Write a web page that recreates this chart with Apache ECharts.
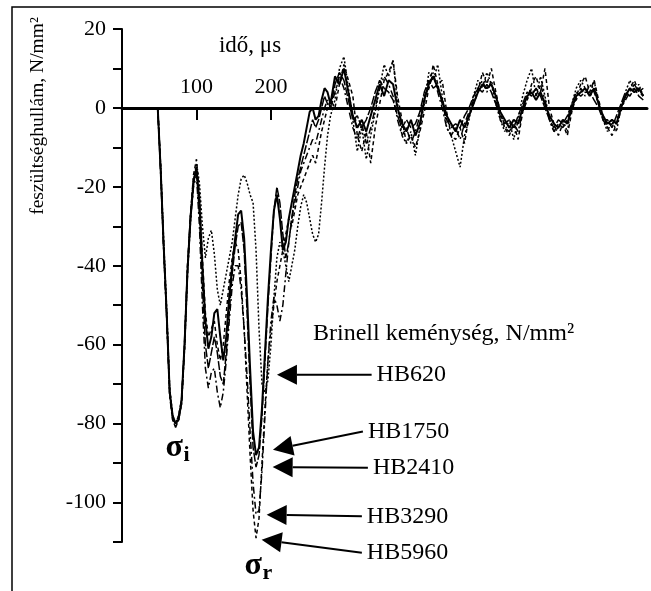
<!DOCTYPE html>
<html><head><meta charset="utf-8">
<script src="https://cdn.jsdelivr.net/npm/echarts@6/dist/echarts.min.js"></script>
<style>html,body{margin:0;padding:0;background:#fff}#c{width:651px;height:591px}</style>
</head><body><div id="c"></div>
<script>
// time axis, microseconds
const time = [0,48,52,56,60,64,68,72,76,80,84,88,92,96,
100,104,108,112,116,120,124,128,132,136,140,144,148,152,156,160,164,168,172,176,180,184,188,192,196,200,204,208,212,216,220,224,228,232,236,240,244,248,252,256,260,264,268,272,276,280,
286,292,298,304,310,316,322,328,334,340,346,352,358,364,370,376,382,388,394,400,406,412,418,424,430,436,442,448,454,460,466,472,478,484,490,496,502,508,514,520,526,532,538,544,550,556,562,568,574,580,586,592,598,604,610,616,622,628,634,640,646,652,658,664,670,676,682,688,694,700];

const hb620 = [0,0,-15,-34,-51,-71,-78,-80,-79,-75,-61,-42,-29,-19,
-14,-19,-30,-38,-33,-31,-37,-46,-50,-46,-42,-38,-34,-28,-22,-18,-17,-19,-22,-24,-36,-56,-70,-72,-69,-60,-48,-38,-34,-36,-40,-44,-40,-36,-30,-25,-22,-24,-28,-32,-34,-32,-24,-15,-7,-2,
2,10,13,5,-3,-11,-5,-13,-7,-1,5,11,8,12,1,-7,-9,-6,-12,-5,1,9,7,11,3,-5,-7,-11,-15,-7,-3,3,7,5,9,6,1,-3,-6,-3,-8,-3,3,7,10,3,8,3,-3,-6,-5,-3,-6,1,5,7,5,3,7,1,-3,-6,-3,-6,0,4,7,4,6,3];

const hb1750 = [0,0,-16,-35,-52,-72,-78,-80,-79,-74,-60,-41,-28,-19,
-15,-24,-40,-54,-61,-58,-52,-51,-58,-64,-58,-48,-40,-33,-27,-26,-33,-48,-66,-82,-88,-86,-76,-62,-48,-36,-26,-22,-28,-36,-34,-28,-24,-20,-16,-12,-9,-5,-1,0,-3,-2,2,5,4,1,
8,6,10,4,-2,-5,-3,-6,-2,2,6,3,7,6,0,-4,-6,-3,-7,-4,2,6,8,5,2,-2,-4,-6,-3,-5,-2,1,4,6,5,6,3,-1,-3,-5,-3,-4,0,3,4,2,4,1,-2,-4,-5,-3,-4,0,3,4,5,3,5,1,-2,-4,-3,-4,0,3,5,4,5,3];

const hb2410 = [0,0,-16,-36,-53,-72,-79,-81,-79,-75,-60,-40,-27,-18,
-16,-27,-45,-60,-66,-62,-58,-62,-68,-70,-62,-52,-42,-35,-30,-29,-36,-52,-70,-86,-91,-88,-78,-64,-50,-38,-26,-20,-24,-32,-38,-34,-28,-22,-18,-15,-12,-9,-6,-3,-5,-3,0,3,1,0,
6,9,7,2,-3,-2,-5,-3,0,4,7,5,4,2,-2,-5,-3,-5,-4,-1,4,7,5,6,1,-3,-5,-4,-5,-2,0,3,5,4,6,4,1,-2,-4,-3,-5,-2,1,4,3,5,3,0,-3,-5,-3,-4,-2,1,4,3,4,4,2,0,-3,-3,-5,-2,1,4,3,5,3,2];

const hb3290 = [0,0,-17,-36,-53,-73,-79,-80,-78,-74,-59,-40,-28,-20,
-17,-30,-50,-66,-71,-67,-66,-72,-76,-72,-64,-54,-45,-40,-40,-46,-56,-68,-82,-95,-103,-102,-92,-78,-64,-54,-48,-50,-54,-50,-42,-34,-28,-24,-20,-16,-14,-12,-10,-8,-9,-6,-3,0,2,0,
4,8,5,0,-5,-8,-4,-9,-5,0,5,8,6,3,-3,-7,-5,-9,-6,-2,3,5,9,4,0,-5,-7,-5,-8,-4,-1,2,5,7,4,7,2,-3,-5,-6,-4,-6,-1,2,5,3,6,2,-3,-6,-4,-5,-3,1,2,5,3,6,4,1,-3,-5,-4,-3,0,2,4,6,4,3];

const hb5960 = [0,0,-15,-35,-52,-71,-78,-80,-78,-74,-61,-42,-27,-17,
-13,-22,-38,-52,-58,-56,-54,-60,-64,-60,-52,-44,-38,-34,-36,-44,-56,-72,-88,-102,-109,-104,-90,-76,-64,-56,-50,-44,-40,-36,-32,-28,-30,-26,-22,-20,-18,-16,-14,-12,-14,-10,-6,-3,0,2,
0,6,11,7,3,-7,-11,-6,-14,-5,1,7,9,12,3,-3,-9,-7,-10,-6,-1,5,11,6,7,-1,-7,-8,-5,-9,-2,1,4,9,6,10,4,-1,-5,-7,-4,-8,-1,2,6,8,4,10,0,-4,-7,-4,-7,-1,3,6,8,4,7,2,-2,-5,-7,-4,-1,3,5,7,4,5];

const seriesNames = ['HB620','HB1750','HB2410','HB3290','HB5960'];
const seriesValues = [hb620, hb1750, hb2410, hb3290, hb5960];

const xTickValues = [100, 200];
const xTickLabels = [100, 200];
const yTickLabels = [20, 0, -20, -40, -60, -80, -100];
const yMin = -110, yMax = 20;

// annotation anchors in data coordinates (time, stress)
const arrowNotes = [
  {label:'HB620',  tip:[208.1,-67.6],  tail:[335.2,-67.6]},
  {label:'HB1750', tip:[202.7,-86.6],  tail:[323.5,-82.0]},
  {label:'HB2410', tip:[202.3,-91.0],  tail:[330.2,-91.2]},
  {label:'HB3290', tip:[194.2,-103.1], tail:[322.1,-103.5]},
  {label:'HB5960', tip:[187.5,-109.4], tail:[322.1,-112.7]}
];
const sigmaNotes = [
  {main:'σ', sub:'i', at:[72,-80]},
  {main:'σ', sub:'r', at:[178,-110]}
];

const FONT = "'Liberation Serif','Times New Roman',serif";
const lineStyles = [
  {width:1.5, type:[2,2]},
  {width:2, type:'solid'},
  {width:1.5, type:[9,2]},
  {width:1.5, type:[7,3,2,3]},
  {width:1.5, type:[4,3]}
];

const gridTop = 29, gridHeight = 513;
// place the time axis on the zero line (distance from grid top to y = 0)
const zeroOffset = gridHeight * yMax / (yMax - yMin);

const chart = echarts.init(document.getElementById('c'), null, {renderer:'canvas'});
const option = {
  animation:false,
  backgroundColor:'#fff',
  grid:{left:122, top:gridTop, width:525, height:gridHeight, containLabel:false},
  xAxis:{
    type:'value', min:0, max:705, interval:100, position:'top', offset:-zeroOffset,
    axisLine:{onZero:false, lineStyle:{color:'#000', width:3}},
    axisTick:{inside:true, length:12, customValues:xTickValues, lineStyle:{color:'#000', width:2}},
    minorTick:{show:false},
    axisLabel:{margin:10, customValues:xTickLabels, color:'#000', fontSize:22, fontFamily:FONT},
    splitLine:{show:false}
  },
  yAxis:{
    type:'value', min:yMin, max:yMax, interval:10,
    axisLine:{lineStyle:{color:'#000', width:2}},
    axisTick:{length:9, lineStyle:{color:'#000', width:2}},
    axisLabel:{customValues:yTickLabels, margin:16, color:'#000', fontSize:22, fontFamily:FONT},
    splitLine:{show:false}
  },
  series: seriesNames.map((n, k) => ({
    name:n, type:'line', showSymbol:false, symbol:'none', silent:true,
    lineStyle:Object.assign({color:'#000'}, lineStyles[k]),
    data: time.map((t, i) => [t, seriesValues[k][i]])
  }))
};
chart.setOption(option);

const toPx = p => chart.convertToPixel({seriesIndex:0}, p);
const g = [];
// frame
g.push({type:'polyline', shape:{points:[[12,600],[12,7],[660,7]]}, style:{stroke:'#000', lineWidth:1.5, fill:null}, silent:true});
// axis titles
g.push({type:'text', x:38, y:116, rotation:Math.PI/2, style:{text:'feszültséghullám, N/mm²', fontSize:19.5, fontFamily:FONT, fill:'#000', align:'center', verticalAlign:'middle'}});
g.push({type:'text', x:250, y:46, style:{text:'idő, μs', fontSize:23, fontFamily:FONT, fill:'#000', align:'center', verticalAlign:'middle'}});
g.push({type:'text', x:313, y:334, style:{text:'Brinell keménység, N/mm²', fontSize:24, fontFamily:FONT, fill:'#000', align:'left', verticalAlign:'middle'}});
arrowNotes.forEach(a => {
  const tip = toPx(a.tip), tail = toPx(a.tail);
  const dx = tip[0]-tail[0], dy = tip[1]-tail[1], L = Math.hypot(dx, dy);
  const ux = dx/L, uy = dy/L, H = 20, W = 10;
  const bx = tip[0]-ux*H, by = tip[1]-uy*H;
  g.push({type:'line', shape:{x1:tail[0], y1:tail[1], x2:bx, y2:by}, style:{stroke:'#000', lineWidth:2}, silent:true});
  g.push({type:'polygon', shape:{points:[tip, [bx-uy*W, by+ux*W], [bx+uy*W, by-ux*W]]}, style:{fill:'#000'}, silent:true});
  g.push({type:'text', x:tail[0]+5, y:tail[1], style:{text:a.label, fontSize:24, fontFamily:FONT, fill:'#000', align:'left', verticalAlign:'middle'}});
});
sigmaNotes.forEach(s => {
  const p = toPx(s.at);
  const baseX = p[0]-10, baseY = p[1]+35;
  g.push({type:'text', x:baseX, y:baseY-11, style:{text:s.main, fontSize:32, fontWeight:'bold', fontFamily:FONT, fill:'#000', align:'left', verticalAlign:'middle'}});
  g.push({type:'text', x:baseX+18, y:baseY+4-7.5, style:{text:s.sub, fontSize:22, fontWeight:'bold', fontFamily:FONT, fill:'#000', align:'left', verticalAlign:'middle'}});
});
chart.setOption({graphic:g});
</script>
</body></html>
